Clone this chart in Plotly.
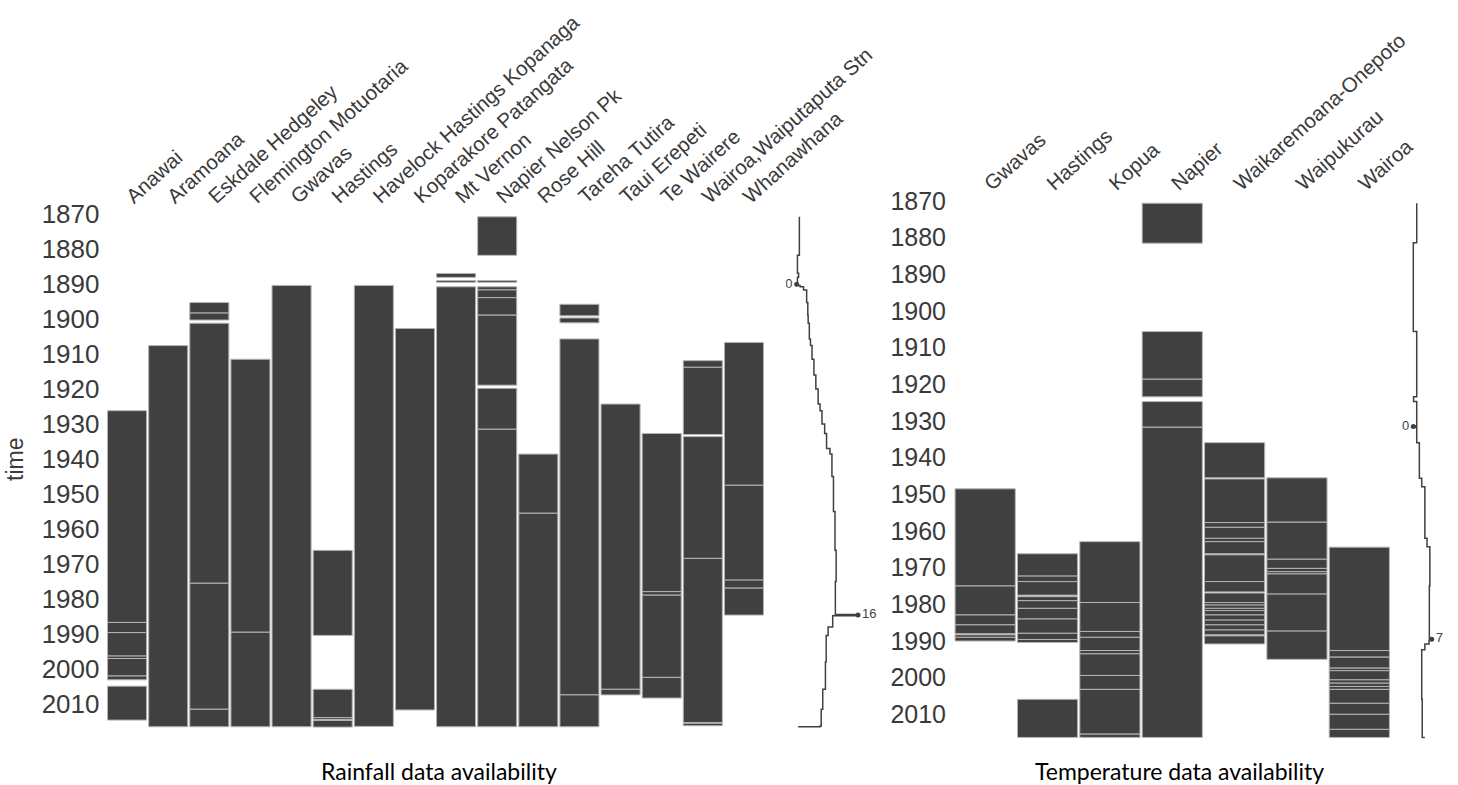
import plotly.graph_objects as go

W, H = 1458, 785

# ---------------- data ----------------
rain_stations = ["Anawai", "Aramoana", "Eskdale Hedgeley", "Flemington Motuotaria", "Gwavas",
                 "Hastings", "Havelock Hastings Kopanaga", "Koparakore Patangata", "Mt Vernon",
                 "Napier Nelson Pk", "Rose Hill", "Tareha Tutira", "Taui Erepeti", "Te Wairere",
                 "Wairoa,Waiputaputa Stn", "Whanawhana"]

# available periods [start, end] in decimal years, one list per station
rain_periods = [
    [[1926.2, 1986.7], [1986.7, 1989.6], [1989.6, 1996.3], [1996.3, 1997.0], [1997.0, 2002.0], [2002.0, 2003.1], [2004.9, 2014.6]],
    [[1907.6, 2016.5]],
    [[1895.3, 1898.3], [1898.3, 1900.3], [1901.2, 1975.5], [1975.5, 2011.5], [2011.5, 2016.5]],
    [[1911.5, 1989.5], [1989.5, 2016.5]],
    [[1890.4, 2016.5]],
    [[1966.1, 1990.4], [2005.8, 2013.9], [2013.9, 2014.4], [2014.7, 2016.6]],
    [[1890.4, 2016.4]],
    [[1902.7, 2011.7]],
    [[1887.0, 1888.1], [1889.0, 1889.5], [1890.8, 2016.5]],
    [[1870.8, 1881.8], [1889.0, 1889.5], [1890.8, 1891.7], [1891.7, 1893.9], [1893.9, 1898.9], [1898.9, 1918.9], [1919.8, 1931.5], [1931.5, 2016.5]],
    [[1938.6, 1955.5], [1955.5, 2016.5]],
    [[1895.8, 1899.1], [1899.7, 1901.1], [1905.7, 2007.4], [2007.4, 2016.5]],
    [[1924.3, 2005.8], [2005.8, 2007.4]],
    [[1932.7, 1977.9], [1977.9, 1978.9], [1978.9, 2002.4], [2002.4, 2008.3]],
    [[1911.9, 1913.8], [1913.8, 1933.0], [1933.6, 1968.4], [1968.4, 2015.3], [2015.5, 2016.2]],
    [[1906.7, 1947.5], [1947.5, 1974.6], [1974.6, 1976.9], [1976.9, 1984.6]],
]

temp_stations = ["Gwavas", "Hastings", "Kopua", "Napier", "Waikaremoana-Onepoto", "Waipukurau", "Wairoa"]

temp_periods = [
    [[1948.5, 1975.0], [1975.0, 1982.9], [1982.9, 1985.6], [1985.6, 1988.0], [1988.3, 1989.0], [1989.0, 1990.0]],
    [[1966.2, 1972.3], [1972.3, 1973.8], [1973.8, 1977.5], [1977.9, 1979.0], [1979.0, 1981.1], [1981.1, 1984.0],
     [1984.0, 1987.9], [1987.9, 1989.6], [1989.6, 1990.4], [2005.9, 2016.3]],
    [[1962.9, 1979.5], [1979.5, 1987.4], [1987.4, 1989.0], [1989.0, 1992.6], [1992.6, 1993.5], [1993.5, 1999.4],
     [1999.4, 2003.2], [2003.2, 2015.4], [2015.4, 2016.3]],
    [[1870.6, 1881.5], [1905.6, 1918.6], [1918.6, 1923.4], [1924.7, 1931.7], [1931.7, 2016.3]],
    [[1935.9, 1945.5], [1945.8, 1957.7], [1957.7, 1959.0], [1959.0, 1962.0], [1962.0, 1962.9], [1962.9, 1966.2],
     [1966.5, 1973.8], [1973.8, 1976.6], [1976.9, 1979.5], [1979.5, 1980.2], [1980.2, 1981.1], [1981.1, 1981.7],
     [1981.7, 1982.9], [1982.9, 1984.3], [1984.3, 1985.6], [1985.6, 1987.0], [1987.0, 1988.3], [1988.6, 1990.8]],
    [[1945.5, 1957.6], [1957.6, 1967.7], [1967.7, 1970.2], [1970.2, 1971.1], [1971.1, 1971.7], [1971.7, 1977.2],
     [1977.2, 1987.3], [1987.3, 1995.0]],
    [[1964.4, 1992.6], [1992.6, 1994.4], [1994.4, 1997.4], [1997.4, 1998.1], [1998.1, 2000.6], [2000.6, 2001.5],
     [2001.5, 2002.4], [2002.4, 2003.2], [2003.2, 2007.0], [2007.0, 2010.0], [2010.0, 2014.1], [2014.1, 2016.3]],
]

# sparklines: row completeness, value holds from year[i] to year[i+1]
rain_spark_year = [1870.8, 1881.8, 1886.9, 1888.1, 1889.9, 1890.4, 1890.8, 1891.7, 1895.3, 1899.0, 1901.2,
                   1905.7, 1907.6, 1911.5, 1916.0, 1920.0, 1924.3, 1926.2, 1930.0, 1932.7, 1937.0, 1938.6,
                   1945.0, 1955.0, 1966.1, 1975.0, 1984.4, 1984.8, 1988.0, 1990.4, 1998.0, 2005.8, 2011.5,
                   2016.3, 2016.5]
rain_spark_value = [0.7, 0.2, 0.5, 0.2, 0.0, 0.9, 1.8, 2.6, 2.9, 3.0, 3.3,
                    3.6, 4.0, 4.5, 5.0, 5.6, 6.1, 6.6, 7.3, 7.8, 8.7, 9.2,
                    9.6, 10.0, 10.3, 10.1, 16.0, 9.4, 8.2, 7.7, 7.5, 6.8, 6.4,
                    6.1, 0.4]
rain_spark_min = (0, 1890.1)
rain_spark_max = (16, 1984.6)

temp_spark_year = [1870.6, 1881.4, 1905.6, 1923.4, 1924.7, 1931.3, 1931.7, 1935.9, 1945.6, 1947.9,
                   1962.0, 1964.3, 1975.0, 1989.3, 1989.8, 1990.8, 1992.4, 2005.9, 2016.3]
temp_spark_value = [1.3, 0.0, 1.3, 0.1, 1.3, 0.0, 1.3, 2.3, 3.2, 4.4,
                    5.2, 6.3, 6.1, 7.0, 6.0, 4.4, 3.2, 3.4, 4.4]
temp_spark_min = (0, 1931.5)
temp_spark_max = (7, 1989.5)

decade_ticks = list(range(1870, 2011, 10))

# ---------------- figure ----------------
DARK = "#404040"
EDGE = "#b4b4b4"
TXT = "#3a3a3a"
FONT = "Liberation Sans, Arial, sans-serif"
CAPFONT = "Lato, Carlito, sans-serif"


def px_x(p):
    return p / W


def px_y(p):
    return 1 - p / H


def bars(stations, periods, width, xa, ya):
    xs, base, length = [], [], []
    for st, per in zip(stations, periods):
        for s, e in per:
            xs.append(st)
            base.append(s)
            length.append(e - s)
    return go.Bar(x=xs, y=length, base=base, width=width, xaxis=xa, yaxis=ya,
                  marker=dict(color=DARK, line=dict(color=EDGE, width=1)),
                  showlegend=False, hoverinfo="skip")


fig = go.Figure()
fig.add_trace(bars(rain_stations, rain_periods, 0.95, "x", "y"))
fig.add_trace(bars(temp_stations, temp_periods, 0.965, "x3", "y3"))

fig.add_trace(go.Scatter(x=rain_spark_value, y=rain_spark_year, mode="lines", line=dict(color=DARK, width=1.5, shape="vh"),
                         xaxis="x2", yaxis="y2", showlegend=False, hoverinfo="skip"))
fig.add_trace(go.Scatter(x=temp_spark_value, y=temp_spark_year, mode="lines", line=dict(color=DARK, width=1.5, shape="vh"),
                         xaxis="x4", yaxis="y4", showlegend=False, hoverinfo="skip"))

for (mn, mx, xa, ya) in [(rain_spark_min, rain_spark_max, "x2", "y2"), (temp_spark_min, temp_spark_max, "x4", "y4")]:
    fig.add_trace(go.Scatter(x=[mn[0]], y=[mn[1]], mode="markers+text", text=[str(mn[0])], textposition="middle left",
                             marker=dict(color=DARK, size=5), textfont=dict(size=13, color="#444", family=FONT),
                             xaxis=xa, yaxis=ya, showlegend=False, hoverinfo="skip"))
    fig.add_trace(go.Scatter(x=[mx[0]], y=[mx[1]], mode="markers+text", text=[str(mx[0])], textposition="middle right",
                             marker=dict(color=DARK, size=5), textfont=dict(size=13, color="#444", family=FONT),
                             xaxis=xa, yaxis=ya, showlegend=False, hoverinfo="skip"))

# pixel geometry
L_x0, L_x1 = 106.5, 764.5
L_top, L_bot = 212.25, 730.25   # years 1869.5 .. 2017.5
R_x0, R_x1 = 954.0, 1390.5
R_top, R_bot = 199.2, 740.0     # years 1869.5 .. 2017.0

cat_axis = dict(type="category", side="top", tickangle=-42, showgrid=False, zeroline=False, showline=False,
                ticks="", tickfont=dict(size=20.5, color=TXT, family=FONT), fixedrange=True)
hidden = dict(visible=False, showgrid=False, zeroline=False, fixedrange=True)

fig.update_layout(
    width=W, height=H, margin=dict(l=0, r=0, t=0, b=0), template="none",
    paper_bgcolor="white", plot_bgcolor="white", barmode="overlay", showlegend=False,
    xaxis=dict(cat_axis, domain=[px_x(L_x0), px_x(L_x1)], anchor="y",
               categoryorder="array", categoryarray=rain_stations, range=[-0.5, len(rain_stations) - 0.5]),
    yaxis=dict(domain=[px_y(L_bot), px_y(L_top)], anchor="x", range=[2017.5, 1869.5],
               tickvals=decade_ticks, showgrid=False, zeroline=False, showline=False, ticks="",
               ticklabelstandoff=6, tickfont=dict(size=26, color=TXT, family=FONT), fixedrange=True),
    xaxis2=dict(hidden, domain=[px_x(786), px_x(880)], anchor="y2", range=[-2.79, 21.75]),
    yaxis2=dict(hidden, domain=[px_y(L_bot), px_y(L_top)], anchor="x2", range=[2017.5, 1869.5]),
    xaxis3=dict(cat_axis, domain=[px_x(R_x0), px_x(R_x1)], anchor="y3",
                categoryorder="array", categoryarray=temp_stations, range=[-0.5, len(temp_stations) - 0.5]),
    yaxis3=dict(domain=[px_y(R_bot), px_y(R_top)], anchor="x3", range=[2017.0, 1869.5],
                tickvals=decade_ticks, showgrid=False, zeroline=False, showline=False, ticks="",
                ticklabelstandoff=7, tickfont=dict(size=25, color=TXT, family=FONT), fixedrange=True),
    xaxis4=dict(hidden, domain=[px_x(1400), px_x(1458)], anchor="y4", range=[-5.06, 17.0]),
    yaxis4=dict(hidden, domain=[px_y(R_bot), px_y(R_top)], anchor="x4", range=[2017.0, 1869.5]),
    annotations=[
        dict(text="time", x=px_x(15), y=px_y(460), xref="paper", yref="paper", showarrow=False,
             xanchor="center", yanchor="middle",
             textangle=-90, font=dict(size=23, color=TXT, family=FONT)),
        dict(text="Rainfall data availability", x=px_x(439), y=px_y(771), xref="paper", yref="paper",
             xanchor="center", yanchor="middle",
             showarrow=False, font=dict(size=23, color="black", family=CAPFONT)),
        dict(text="Temperature data availability", x=px_x(1179), y=px_y(771), xref="paper", yref="paper",
             xanchor="center", yanchor="middle",
             showarrow=False, font=dict(size=23, color="black", family=CAPFONT)),
    ],
)

fig.write_html("out.html")
